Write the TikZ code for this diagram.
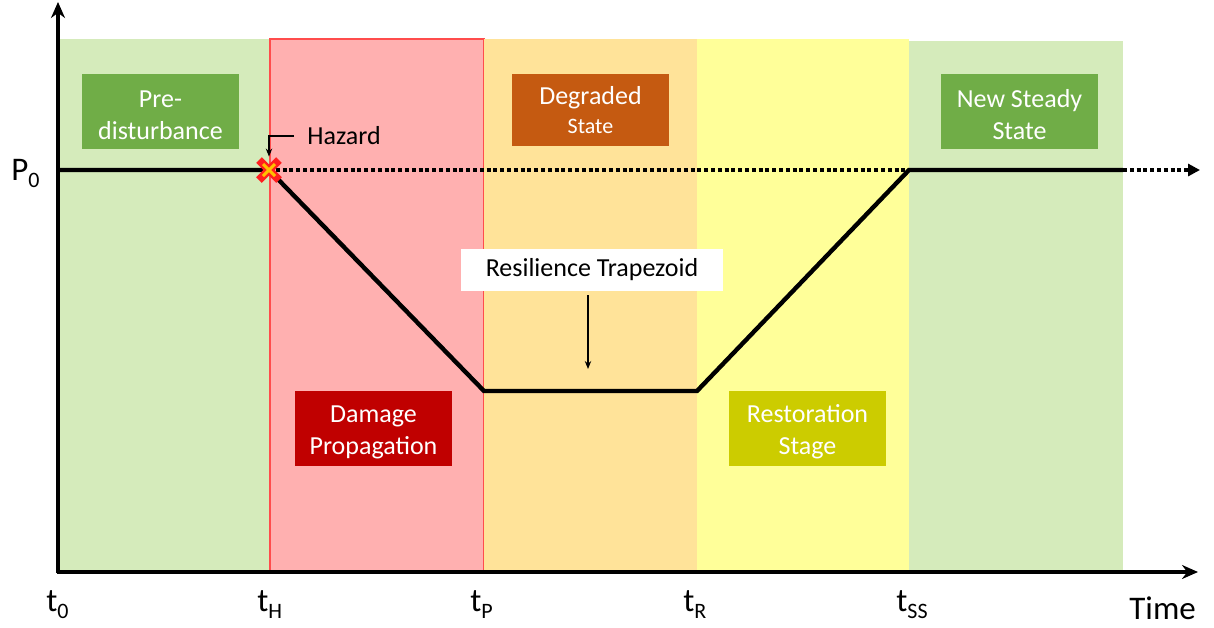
\documentclass[tikz,border=0pt]{standalone}
\usepackage{fontspec}
\setmainfont{Carlito}
\usetikzlibrary{arrows.meta}
\definecolor{phasegreen}{HTML}{D5EBBB}
\definecolor{phasered}{HTML}{FFB0B0}
\definecolor{phaseorange}{HTML}{FFE399}
\definecolor{phaseyellow}{HTML}{FFFF99}
\definecolor{tagdarkgreen}{HTML}{70AD47}
\definecolor{tagrust}{HTML}{C55A11}
\definecolor{tagcrimson}{HTML}{C00000}
\definecolor{tagolive}{HTML}{CCCC00}
\definecolor{hazardred}{HTML}{FF1F1F}
\definecolor{hazardyellow}{HTML}{FFC000}
\newcommand{\tsub}[2]{#1\raisebox{-0.45ex}{\fontsize{11}{11}\selectfont #2}}
\newcommand{\tagtop}{\rule{0pt}{12.5pt}}

\begin{document}
\begin{tikzpicture}[
  x=0.5pt, y=-0.5pt,
  font=\fontsize{13}{16}\selectfont,
  stagetag/.style={text=white, align=center, minimum width=78.5pt,
    minimum height=37.5pt, inner sep=0pt},
  curve/.style={line width=2.2pt, line join=miter},
  dotline/.style={line width=2pt, dash pattern=on 2pt off 1.4pt},
  axis/.style={line width=2pt, -{Stealth[length=8pt, width=7pt]}},
  pointer/.style={line width=0.6pt, -{Stealth[length=4pt, width=3.2pt]}},
  ticklabel/.style={font=\fontsize{16.5}{18}\selectfont, anchor=base west,
    inner sep=0pt}
]
\useasboundingbox (0,0) rectangle (1214,627);

% phase bands
\fill[phasegreen] (58,39) rectangle (270,572);
\filldraw[fill=phasered, draw=red!70, line width=0.6pt] (270,39) rectangle (484,572);
\fill[phaseorange] (484.3,39) rectangle (697,572);
\fill[phaseyellow] (697,39) rectangle (909,572);
\fill[phasegreen] (909,41) rectangle (1123,572);

% axes
\draw[axis] (58,573) -- (58,2);
\draw[axis] (57,572) -- (1198,572);

% performance curve
\coordinate (p0) at (58,170);
\coordinate (h) at (269,170);
\coordinate (pk) at (484,391);
\coordinate (rc) at (697,391);
\coordinate (ss) at (909,170);
\coordinate (ne) at (1123,170);
\coordinate (tip) at (1200,170);
\draw[dotline] (h) -- (ss);
\draw[curve] (p0) -- (h) -- (pk) -- (rc) -- (ss) -- (ne);
\draw[dotline, -{Triangle[length=6pt, width=6pt]}] (ne) -- (tip);

% hazard mark
\node[inner sep=0pt, minimum size=13pt] (hz) at (h) {};
\draw[hazardred, line width=4pt] (h) ++(-10,-10) -- ++(20,20)
  (h) ++(-10,10) -- ++(20,-20);
\draw[hazardyellow, line width=1.5pt] (h) ++(-6,-6) -- ++(12,12)
  (h) ++(-6,6) -- ++(12,-12);
\node[anchor=west, inner xsep=6.5pt, inner ysep=3pt] (hzlbl) at (294,136) {Hazard};
\draw[pointer] (hzlbl.west) -| (hz.north);

% phase tags
\node[stagetag, fill=tagdarkgreen] (predist) at (160.5,111.5) {\tagtop Pre-\\disturbance};
\node[stagetag, fill=tagrust, minimum height=36pt] (degraded) at (590.5,110)
  {Degraded\\[-1.5pt]{\fontsize{11}{13}\selectfont State}};
\node[stagetag, fill=tagdarkgreen] (newsteady) at (1019.5,111.5) {\tagtop New Steady\\State};
\node[stagetag, fill=tagcrimson] (damage) at (373.5,428.5) {\tagtop Damage\\Propagation};
\node[stagetag, fill=tagolive] (restore) at (807.5,428.5) {\tagtop Restoration\\Stage};

\node[fill=white, minimum width=131pt, minimum height=21pt, inner sep=0pt]
  (trap) at (592,270) {Resilience Trapezoid};
\coordinate (trapend) at (588,369);
\draw[pointer] ([xshift=-2pt, yshift=-2pt]trap.south) -- (trapend);

% axis labels
\node[ticklabel] (lblP) at (11,180) {\tsub{P}{0}};
\node[ticklabel] (lbl0) at (46,611) {\tsub{t}{0}};
\node[ticklabel] (lblH) at (257,611) {\tsub{t}{H}};
\node[ticklabel] (lblP2) at (470,611) {\tsub{t}{P}};
\node[ticklabel] (lblR) at (683,611) {\tsub{t}{R}};
\node[ticklabel] (lblSS) at (896,611) {\tsub{t}{SS}};
\node[ticklabel] (lbltime) at (1129,619) {Time};
\end{tikzpicture}
\end{document}
